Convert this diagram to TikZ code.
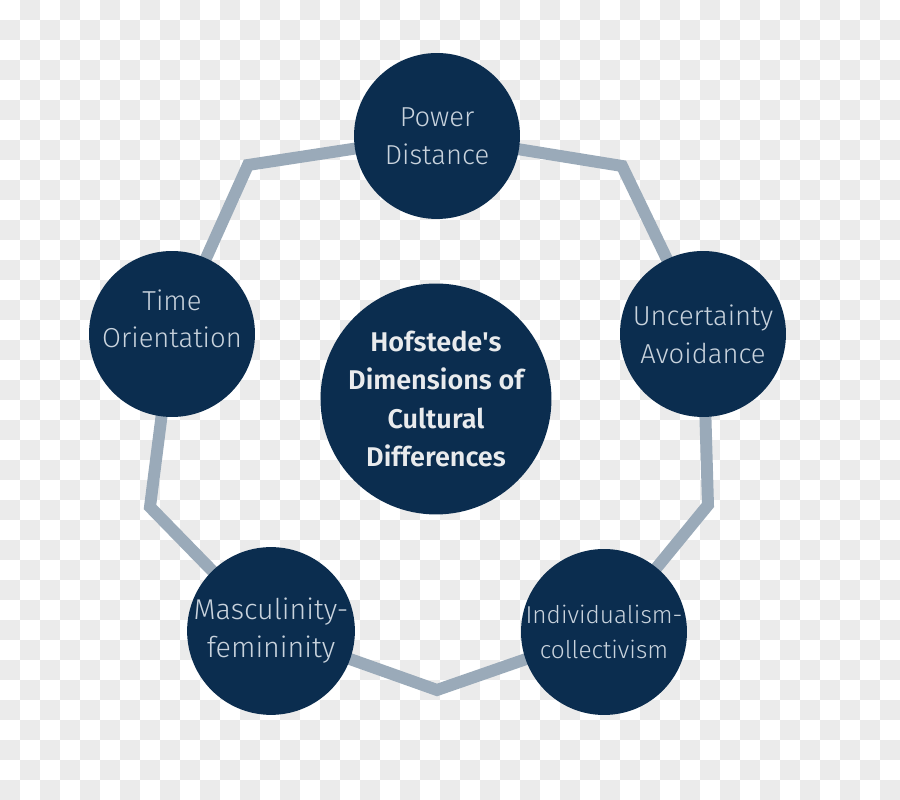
\documentclass[tikz,border=0pt]{standalone}
\usepackage{fontspec}
\setmainfont{Fira Sans}[UprightFont=* Light, BoldFont=* SemiBold]
\usetikzlibrary{backgrounds}
\definecolor{navy}{HTML}{0B2D4F}
\definecolor{rim}{HTML}{9AAAB9}
\definecolor{checker}{HTML}{EBEBEB}
\definecolor{softtext}{HTML}{C9D3DD}
\definecolor{headtext}{HTML}{E9EBED}
\pgfdeclarelayer{back}
\pgfsetlayers{back,background,main}
\tikzset{
  dimnode/.style={circle, fill=navy, minimum size=3.32cm, inner sep=0pt,
                  align=center, font=\fontsize{15.6}{21.5}\selectfont, text=softtext},
  hubnode/.style={circle, fill=navy, minimum size=4.62cm, inner sep=0pt,
                  align=center, font=\bfseries\fontsize{15.4}{22}\selectfont, text=headtext},
  ring/.style={draw=rim, line width=6.8pt, line join=miter}
}

\begin{document}
\begin{tikzpicture}[x=0.02cm,y=0.02cm]
  \useasboundingbox (0,0) rectangle (900,800);
  % checkered backdrop
  \begin{pgfonlayer}{back}
    \fill[white] (0,0) rectangle (900,800);
    \foreach \i in {0,...,44}
      \foreach \j in {0,...,39}{
        \pgfmathtruncatemacro{\odd}{mod(\i+\j,2)}
        \ifnum\odd=1
          \fill[checker] (20*\i,780-20*\j) rectangle ++(20,20);
        \fi
      }
  \end{pgfonlayer}

  \node[hubnode] (hub) at (436,401) {Hofstede\textquotesingle s\\Dimensions of\\Cultural\\Differences};

  \node[dimnode] (power) at (437,664) {Power\\Distance};
  \node[dimnode] (uncert) at (703,466) {Uncertainty\\Avoidance};
  \node[dimnode, font=\fontsize{13.9}{20}\selectfont] (indiv) at (604,168) {Individualism-\\collectivism};
  \node[dimnode, font=\fontsize{16.3}{21.5}\selectfont] (mascu) at (271,169) {Masculinity-\\femininity};
  \node[dimnode] (time) at (172,466)
    {\makebox[0pt]{\raisebox{0pt}[\height][\dimexpr\depth+0.5cm]{\begin{tabular}{@{}c@{}}Time\\Orientation\end{tabular}}}};

  \coordinate (bendA) at (622,634);
  \coordinate (bendB) at (708,295);
  \coordinate (bendC) at (437,110);
  \coordinate (bendD) at (150,293);
  \coordinate (bendE) at (248,635);

  \begin{pgfonlayer}{background}
    \draw[ring] (power.center) -- (bendA) -- (uncert.center) -- (bendB)
      -- (indiv.center) -- (bendC) -- (mascu.center) -- (bendD)
      -- (time.center) -- (bendE) -- cycle;
  \end{pgfonlayer}
\end{tikzpicture}
\end{document}
